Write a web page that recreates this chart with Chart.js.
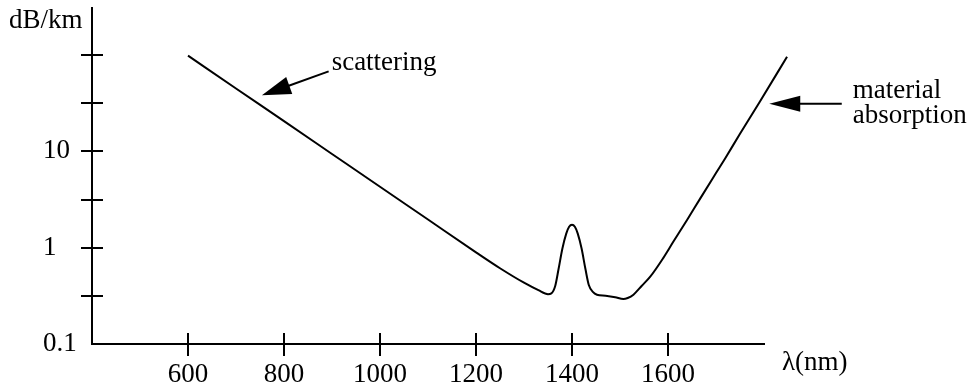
<!DOCTYPE html>
<html>
<head>
<meta charset="utf-8">
<script src="https://cdn.jsdelivr.net/npm/chart.js@4/dist/chart.umd.min.js"></script>
<style>
  html, body { margin: 0; padding: 0; background: #fff; }
  canvas { display: block; }
</style>
</head>
<body>
<canvas id="c" width="968" height="391"></canvas>
<script>
// ---- data ----
const wavelengths = [600, 700, 800, 900, 1000, 1100, 1200, 1250, 1300, 1330, 1350, 1357, 1365, 1372, 1380, 1388, 1394, 1400, 1406, 1412, 1420, 1428, 1435, 1444, 1452, 1470, 1490, 1507, 1516, 1528, 1545, 1563, 1590, 1611, 1640, 1667, 1700, 1719, 1750, 1790, 1848];
const attenuation = [98.6, 45, 20.6, 9.4, 4.29, 1.96, 0.895, 0.612, 0.433, 0.362, 0.329, 0.335, 0.40, 0.60, 0.98, 1.40, 1.65, 1.73, 1.65, 1.40, 0.98, 0.60, 0.41, 0.345, 0.325, 0.317, 0.306, 0.293, 0.30, 0.325, 0.40, 0.50, 0.78, 1.15, 1.95, 3.23, 5.95, 8.45, 15.2, 32.0, 96];
const xTickValues = [600, 800, 1000, 1200, 1400, 1600];
const yTickValues = [0.1, 0.3162, 1, 3.162, 10, 31.62, 100];
const yTickLabels = ['0.1', '', '1', '', '10', '', ''];
const yAxisTitle = 'dB/km';
const xAxisTitle = 'λ(nm)';
const scatterLabel = 'scattering';
const absorptionLabel = ['material', 'absorption'];

const FONT = '"Liberation Serif", "Times New Roman", serif';
const FS = 27;

function drawArrow(ctx, x0, y0, x1, y1, headLen, headHalf) {
  const dx = x1 - x0, dy = y1 - y0;
  const len = Math.hypot(dx, dy);
  const ux = dx / len, uy = dy / len;
  const bx = x1 - ux * headLen, by = y1 - uy * headLen;
  ctx.beginPath();
  ctx.moveTo(x0, y0);
  ctx.lineTo(bx + ux * 2, by + uy * 2);
  ctx.stroke();
  ctx.beginPath();
  ctx.moveTo(x1, y1);
  ctx.lineTo(bx - uy * headHalf, by + ux * headHalf);
  ctx.lineTo(bx + uy * headHalf, by - ux * headHalf);
  ctx.closePath();
  ctx.fill();
}

const decorations = {
  id: 'decorations',
  afterDraw(chart) {
    const { ctx, scales: { x, y }, chartArea } = chart;
    ctx.save();
    ctx.strokeStyle = '#000';
    ctx.fillStyle = '#000';
    ctx.lineWidth = 2;
    ctx.lineCap = 'butt';
    // inner halves of the tick marks (ticks cross the axes)
    x.ticks.forEach((t) => {
      const px = Math.round(x.getPixelForValue(t.value));
      ctx.beginPath();
      ctx.moveTo(px, chartArea.bottom);
      ctx.lineTo(px, chartArea.bottom - 11);
      ctx.stroke();
    });
    y.ticks.forEach((t, i) => {
      if (i === 0) return;
      const py = Math.round(y.getPixelForValue(t.value));
      ctx.beginPath();
      ctx.moveTo(chartArea.left, py);
      ctx.lineTo(chartArea.left + 11, py);
      ctx.stroke();
    });
    // annotation arrows (positions in data units)
    const sTail = [x.getPixelForValue(893), y.getPixelForValue(67.7)];
    const sTip = [x.getPixelForValue(754), y.getPixelForValue(38.2)];
    drawArrow(ctx, sTail[0], sTail[1], sTip[0], sTip[1], 29, 9);
    const aTail = [x.getPixelForValue(1962), y.getPixelForValue(31.3)];
    const aTip = [x.getPixelForValue(1811), y.getPixelForValue(31.3)];
    drawArrow(ctx, aTail[0], aTail[1], aTip[0], aTip[1], 31, 8);

    ctx.font = FS + 'px ' + FONT;
    ctx.textAlign = 'left';
    ctx.textBaseline = 'alphabetic';
    ctx.fillText(scatterLabel, sTail[0] + 3, sTail[1] - 1);
    ctx.fillText(absorptionLabel[0], aTail[0] + 11, aTail[1] - 6);
    ctx.fillText(absorptionLabel[1], aTail[0] + 11, aTail[1] + 19);
    // axis titles
    ctx.fillText(yAxisTitle, 9, 28);
    ctx.fillText(xAxisTitle, 782, 370);
    ctx.restore();
  }
};

new Chart(document.getElementById('c'), {
  type: 'line',
  data: {
    datasets: [{
      data: wavelengths.map((w, i) => ({ x: w, y: attenuation[i] })),
      borderColor: '#000',
      borderWidth: 2,
      pointRadius: 0,
      fill: false,
      cubicInterpolationMode: 'monotone',
      clip: false
    }]
  },
  options: {
    responsive: false,
    animation: false,
    events: [],
    layout: { padding: { left: 43, top: 8, right: 204, bottom: 0 } },
    plugins: { legend: { display: false }, tooltip: { enabled: false }, title: { display: false } },
    scales: {
      x: {
        type: 'linear',
        min: 400,
        max: 1800,
        bounds: 'data',
        afterBuildTicks: (s) => { s.ticks = xTickValues.map((v) => ({ value: v })); },
        afterFit: (s) => { s.height = 47; s.paddingLeft = 0; s.paddingRight = 0; },
        border: { display: true, color: '#000', width: 2 },
        grid: { display: true, drawOnChartArea: false, drawTicks: true, tickLength: 12, tickWidth: 2, tickColor: '#000', lineWidth: 2, color: '#000' },
        ticks: {
          autoSkip: false, maxRotation: 0, padding: 3, color: '#000',
          font: { family: FONT, size: FS },
          callback: (v) => String(v)
        }
      },
      y: {
        type: 'logarithmic',
        min: 0.1,
        max: 308,
        bounds: 'data',
        afterBuildTicks: (s) => { s.ticks = yTickValues.map((v) => ({ value: v })); },
        afterFit: (s) => { s.width = 49; s.paddingTop = 0; s.paddingBottom = 0; },
        border: { display: true, color: '#000', width: 2 },
        grid: {
          display: true, drawOnChartArea: false, drawTicks: true, tickLength: 11, tickWidth: 2, lineWidth: 2, color: '#000',
          tickColor: (c) => (c.index === 0 ? 'rgba(0,0,0,0)' : '#000')
        },
        ticks: {
          autoSkip: false, crossAlign: 'far', padding: 6, color: '#000',
          font: { family: FONT, size: FS },
          callback: (v, i) => yTickLabels[i]
        }
      }
    }
  },
  plugins: [decorations]
});
</script>
</body>
</html>
